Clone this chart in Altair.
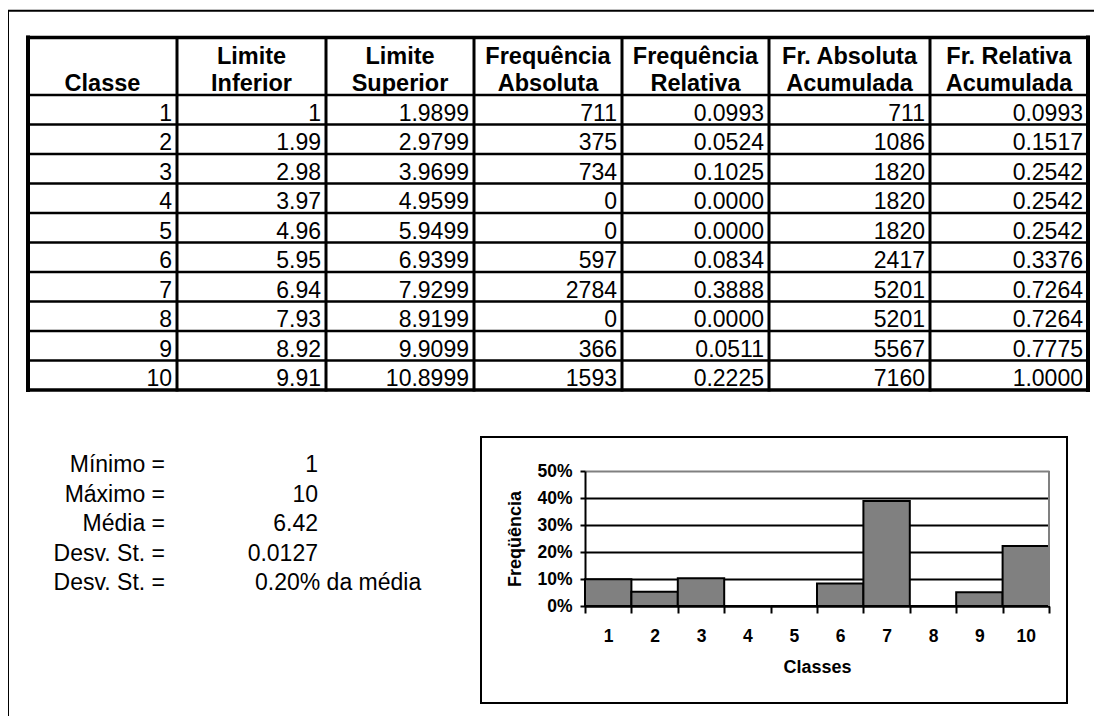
import altair as alt
import pandas as pd

FONT = "Liberation Sans"
W, H = 1086, 708

# ---------------- data ----------------
classes = [1, 2, 3, 4, 5, 6, 7, 8, 9, 10]
lim_inf = ["1", "1.99", "2.98", "3.97", "4.96", "5.95", "6.94", "7.93", "8.92", "9.91"]
lim_sup = ["1.9899", "2.9799", "3.9699", "4.9599", "5.9499", "6.9399", "7.9299", "8.9199", "9.9099", "10.8999"]
freq_abs = [711, 375, 734, 0, 0, 597, 2784, 0, 366, 1593]
freq_rel = [0.0993, 0.0524, 0.1025, 0.0, 0.0, 0.0834, 0.3888, 0.0, 0.0511, 0.2225]
fr_abs_acum = [711, 1086, 1820, 1820, 1820, 2417, 5201, 5201, 5567, 7160]
fr_rel_acum = [0.0993, 0.1517, 0.2542, 0.2542, 0.2542, 0.3376, 0.7264, 0.7264, 0.7775, 1.0000]

header_line1 = ["", "Limite", "Limite", "Frequência", "Frequência", "Fr. Absoluta", "Fr. Relativa"]
header_line2 = ["Classe", "Inferior", "Superior", "Absoluta", "Relativa", "Acumulada", "Acumulada"]

stat_labels = ["Mínimo =", "Máximo =", "Média =", "Desv. St. =", "Desv. St. ="]
stat_values = ["1", "10", "6.42", "0.0127"]
stat_note = "0.20% da média"

y_ticks = [0, 0.1, 0.2, 0.3, 0.4, 0.5]

# ---------------- tables built from arrays ----------------
columns = [
    [str(c) for c in classes],
    lim_inf,
    lim_sup,
    [str(v) for v in freq_abs],
    [f"{v:.4f}" for v in freq_rel],
    [str(v) for v in fr_abs_acum],
    [f"{v:.4f}" for v in fr_rel_acum],
]
n_cols = len(columns)
n_rows = len(classes)
cells = pd.DataFrame(
    [{"col": c + 1, "row": r + 2, "txt": columns[c][r]} for c in range(n_cols) for r in range(n_rows)]
)
head = pd.DataFrame({"col": [c + 0.5 for c in range(n_cols)], "row": 1,
                     "l1": header_line1, "l2": header_line2})

inner_h = pd.DataFrame({"y": list(range(1, n_rows + 1)), "x0": 0, "x1": n_cols})
outer_h = pd.DataFrame({"y": [0, n_rows + 1], "x0": 0, "x1": n_cols})
inner_v = pd.DataFrame({"x": list(range(1, n_cols)), "y0": 0, "y1": n_rows + 1})
outer_v = pd.DataFrame({"x": [0, n_cols], "y0": 0, "y1": n_rows + 1})

# table scales (column edges / row boundaries in pixels)
tx = alt.Scale(type="linear", domain=list(range(n_cols + 1)),
               range=[20, 169, 318, 466, 614, 761, 922, 1080], nice=False, zero=False)
ty = alt.Scale(type="linear", domain=[0, 1, n_rows + 1], range=[29.5, 87, 382], nice=False, zero=False)

def hrules(df, width):
    return alt.Chart(df).mark_rule(color="black", strokeWidth=width, strokeCap="square").encode(
        x=alt.X("x0:Q", scale=tx, axis=None), x2="x1:Q",
        y=alt.Y("y:Q", scale=ty, axis=None))

def vrules(df, width):
    return alt.Chart(df).mark_rule(color="black", strokeWidth=width, strokeCap="square").encode(
        x=alt.X("x:Q", scale=tx, axis=None),
        y=alt.Y("y0:Q", scale=ty, axis=None), y2="y1:Q")

cell_text = alt.Chart(cells).mark_text(
    align="right", baseline="alphabetic", dx=-5, dy=-4, font=FONT, fontSize=23, color="black"
).encode(x=alt.X("col:Q", scale=tx, axis=None), y=alt.Y("row:Q", scale=ty, axis=None), text="txt:N")

head1 = alt.Chart(head).mark_text(
    align="center", baseline="alphabetic", dy=-31, font=FONT, fontSize=23.5, fontWeight="bold", color="black"
).encode(x=alt.X("col:Q", scale=tx, axis=None), y=alt.Y("row:Q", scale=ty, axis=None), text="l1:N")
head2 = alt.Chart(head).mark_text(
    align="center", baseline="alphabetic", dy=-4, font=FONT, fontSize=23.5, fontWeight="bold", color="black"
).encode(x=alt.X("col:Q", scale=tx, axis=None), y=alt.Y("row:Q", scale=ty, axis=None), text="l2:N")

# ---------------- statistics block ----------------
sx = alt.Scale(domain=[0, 1], range=[157, 310], nice=False, zero=False)
sy = alt.Scale(domain=[0, 4], range=[457, 575], nice=False, zero=False)
lab_df = pd.DataFrame({"i": list(range(len(stat_labels))), "c": 0, "t": stat_labels})
val_df = pd.DataFrame({"i": list(range(len(stat_values))), "c": 1, "t": stat_values})
note_df = pd.DataFrame({"i": [len(stat_values)], "c": [1], "t": [stat_note]})

stat_lab = alt.Chart(lab_df).mark_text(align="right", baseline="middle", font=FONT, fontSize=23, color="black").encode(
    x=alt.X("c:Q", scale=sx, axis=None), y=alt.Y("i:Q", scale=sy, axis=None), text="t:N")
stat_val = alt.Chart(val_df).mark_text(align="right", baseline="middle", font=FONT, fontSize=23, color="black").encode(
    x=alt.X("c:Q", scale=sx, axis=None), y=alt.Y("i:Q", scale=sy, axis=None), text="t:N")
stat_note_t = alt.Chart(note_df).mark_text(align="left", baseline="middle", dx=-63, font=FONT, fontSize=23,
                                           color="black").encode(
    x=alt.X("c:Q", scale=sx, axis=None), y=alt.Y("i:Q", scale=sy, axis=None), text="t:N")

# ---------------- histogram ----------------
hist_df = pd.DataFrame({"classe": classes, "rel": freq_rel})
xs = alt.Scale(type="band", domain=classes, range=[577, 1041], paddingInner=0, paddingOuter=0)
ys = alt.Scale(type="linear", domain=[y_ticks[0], y_ticks[-1]], range=[598, 463], nice=False, zero=True)

bars = alt.Chart(hist_df).mark_bar(color="#808080", stroke="black", strokeWidth=2).encode(
    x=alt.X("classe:O", scale=xs, axis=alt.Axis(
        orient="bottom", offset=-(H - 598), title="Classes", labelAngle=0, tickBand="extent",
        tickSize=7, tickWidth=2, tickColor="black", domainColor="black", domainWidth=2,
        labelFont=FONT, labelFontSize=17.5, labelFontWeight="bold", labelColor="black", labelPadding=14,
        titleFont=FONT, titleFontSize=18, titleFontWeight="bold", titleColor="black", titlePadding=14,
        grid=False)),
    y=alt.Y("rel:Q", scale=ys, axis=alt.Axis(
        orient="left", offset=-577, values=y_ticks, format=".0%", title="Freqüência",
        grid=True, gridColor=alt.condition("datum.value >= 0.5", alt.value("#808080"), alt.value("black")),
        gridWidth=2, tickSize=5, tickWidth=2, tickColor="black", domainColor="black", domainWidth=2,
        labelFont=FONT, labelFontSize=17.5, labelFontWeight="bold", labelColor="black", labelPadding=8,
        titleFont=FONT, titleFontSize=18, titleFontWeight="bold", titleColor="black", titlePadding=12)),
)

edge_df = pd.DataFrame({"c": [classes[-1]], "y0": [y_ticks[0]], "y1": [y_ticks[-1]]})
right_edge = alt.Chart(edge_df).mark_rule(color="#808080", strokeWidth=2).encode(
    x=alt.X("c:O", scale=xs, axis=None, bandPosition=1),
    y=alt.Y("y0:Q", scale=ys, axis=None), y2="y1:Q")

# ---------------- decorations (page frame, chart box) ----------------
one = pd.DataFrame({"k": [0]})
frame_top = alt.Chart(one).mark_rule(color="black", strokeWidth=2).encode(
    x=alt.value(0), x2=alt.value(W), y=alt.value(2.7))
frame_left = alt.Chart(one).mark_rule(color="black", strokeWidth=2).encode(
    x=alt.value(0), y=alt.value(2.7), y2=alt.value(H))
chart_box = alt.Chart(one).mark_rect(filled=False, stroke="black", strokeWidth=2).encode(
    x=alt.value(473), x2=alt.value(1059), y=alt.value(429), y2=alt.value(695))

chart = alt.layer(
    frame_top, frame_left, chart_box,
    hrules(inner_h, 2.5), vrules(inner_v, 3), hrules(outer_h, 3.5), vrules(outer_v, 4),
    cell_text, head1, head2,
    stat_lab, stat_val, stat_note_t,
    bars, right_edge,
).resolve_scale(x="independent", y="independent").properties(
    width=W, height=H, padding=0, autosize="none", background="white"
).configure_view(stroke=None)

chart.save("out.html", embed_options={"renderer": "svg", "actions": False})
